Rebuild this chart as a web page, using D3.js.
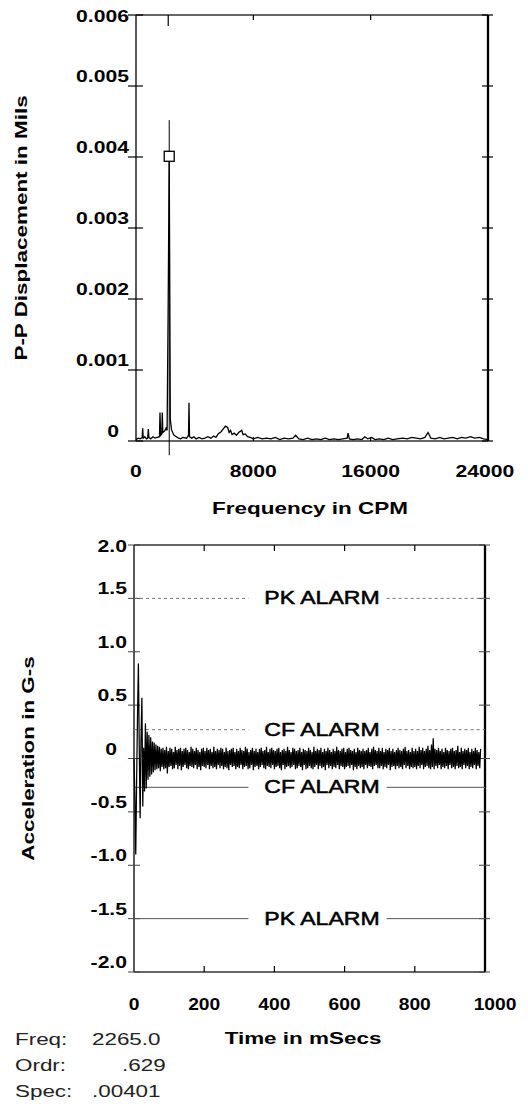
<!DOCTYPE html>
<html>
<head>
<meta charset="utf-8">
<script src="https://cdn.jsdelivr.net/npm/d3@7"></script>
<style>
  html, body { margin: 0; padding: 0; background: #fff; }
  svg { display: block; }
  text { font-family: "Liberation Sans", Arial, Helvetica, sans-serif; fill: #000; }
</style>
</head>
<body>
<svg id="chart" width="528" height="1106"></svg>
<script>
// ---- Spectrum: frequency (CPM) and P-P displacement (mils) ----
const spectrumFreq = [
  0, 150, 300, 420, 457, 490, 600, 720, 800, 839, 880, 1000, 1150, 1300, 1450,
  1600, 1636, 1680, 1760, 1793, 1830, 1950, 2050, 2120, 2190, 2265, 2340, 2420,
  2500, 2600, 2750, 2900, 3050, 3200, 3450, 3580, 3614, 3650, 3800, 3950, 4100,
  4300, 4500, 4700, 4900, 5100, 5300, 5450, 5600, 5800, 5950, 6100, 6250, 6350,
  6450, 6550, 6700, 6850, 7000, 7207, 7300, 7450, 7600, 7800, 8000, 8300, 8600,
  8900, 9200, 9500, 9800, 10100, 10400, 10700, 10889, 11100, 11400, 11700, 12000,
  12300, 12600, 12900, 13200, 13500, 13800, 14100, 14400, 14455, 14550, 14800,
  15100, 15400, 15600, 15800, 16070, 16300, 16600, 16900, 17200, 17500, 17800,
  18200, 18500, 18800, 19100, 19400, 19700, 19909, 20100, 20400, 20700, 21000,
  21300, 21600, 21900, 22200, 22500, 22800, 23100, 23400, 23700, 24000
];
const spectrumAmp = [
  0.00002, 0.00004, 0.00003, 0.00005, 0.00018, 0.00004, 0.00006, 0.00003, 0.00004, 0.00017, 0.00005, 0.00003, 0.00006, 0.00004, 0.00005,
  0.00006, 0.00040, 0.00008, 0.00010, 0.00040, 0.00012, 0.00014, 0.00018, 0.00015, 0.00180, 0.00401, 0.00030, 0.00016,
  0.00012, 0.00008, 0.00006, 0.00004, 0.00003, 0.00005, 0.00004, 0.00008, 0.00054, 0.00006, 0.00004, 0.00006, 0.00003,
  0.00005, 0.00003, 0.00004, 0.00006, 0.00004, 0.00007, 0.00005, 0.00010, 0.00013, 0.00017, 0.00021, 0.00019, 0.00012,
  0.00015, 0.00009, 0.00011, 0.00008, 0.00012, 0.00015, 0.00009, 0.00010, 0.00006, 0.00005, 0.00003, 0.00005, 0.00003,
  0.00004, 0.00003, 0.00005, 0.00002, 0.00004, 0.00003, 0.00004, 0.00008, 0.00003, 0.00002, 0.00004, 0.00002,
  0.00003, 0.00002, 0.00004, 0.00002, 0.00003, 0.00002, 0.00003, 0.00004, 0.00011, 0.00003, 0.00002,
  0.00003, 0.00002, 0.00006, 0.00003, 0.00005, 0.00002, 0.00003, 0.00002, 0.00004, 0.00002, 0.00003,
  0.00004, 0.00003, 0.00005, 0.00004, 0.00003, 0.00005, 0.00012, 0.00004, 0.00003, 0.00005, 0.00003,
  0.00004, 0.00005, 0.00003, 0.00005, 0.00004, 0.00006, 0.00004, 0.00005, 0.00003, 0.00002
];
const freqTicks = [0, 8000, 16000, 24000];
const freqTickLabels = ["0", "8000", "16000", "24000"];
const dispTicks = [0, 0.001, 0.002, 0.003, 0.004, 0.005, 0.006];
const dispTickLabels = ["0", "0.001", "0.002", "0.003", "0.004", "0.005", "0.006"];

// Cursor readout on the spectrum
const cursorFreq = 2265.0;
const cursorSpec = 0.00401;
const cursorLineTop = 0.00452;
const infoLabels = ["Freq:", "Ordr:", "Spec:"];
const infoValues = ["2265.0", ".629", ".00401"];

// ---- Time waveform: acceleration (G-s), one sample every 2.5 ms ----
const waveStepMs = 2.5;
const waveValues = [
   0.00, -0.35, -0.90, -0.20,  0.40,  0.89,  0.10, -0.56,  0.20,  0.57, -0.45,  0.10, -0.31,  0.33, -0.28,  0.25, -0.20,  0.22, -0.17,  0.20,
  -0.15,  0.16, -0.13,  0.15, -0.11,  0.13, -0.10,  0.12, -0.09,  0.11, -0.12,  0.09, -0.08,  0.10, -0.10,  0.08, -0.09,  0.11, -0.14,  0.07,
  -0.08,  0.10, -0.07,  0.09, -0.10,  0.06, -0.09,  0.11, -0.06,  0.08, -0.10,  0.09, -0.07,  0.10, -0.11,  0.07, -0.08,  0.09, -0.06,  0.10,
  -0.09,  0.08, -0.10,  0.06, -0.07,  0.11, -0.08,  0.09, -0.09,  0.07, -0.06,  0.10, -0.10,  0.08, -0.08,  0.06, -0.11,  0.09, -0.07,  0.10,
  -0.08,  0.07, -0.09,  0.10, -0.06,  0.08, -0.10,  0.09, -0.07,  0.06, -0.09,  0.11, -0.08,  0.07, -0.10,  0.09, -0.06,  0.08, -0.09,  0.10,
  -0.07,  0.09, -0.10,  0.06, -0.08,  0.10, -0.09,  0.07, -0.11,  0.08, -0.06,  0.09, -0.08,  0.10, -0.07,  0.06, -0.10,  0.09, -0.08,  0.07,
  -0.09,  0.10, -0.06,  0.08, -0.10,  0.07, -0.08,  0.11, -0.07,  0.09, -0.10,  0.06, -0.09,  0.08, -0.06,  0.10, -0.11,  0.07, -0.08,  0.09,
  -0.07,  0.06, -0.10,  0.09, -0.08,  0.10, -0.06,  0.07, -0.09,  0.08, -0.10,  0.11, -0.07,  0.06, -0.08,  0.09, -0.09,  0.10, -0.06,  0.08,
  -0.10,  0.07, -0.08,  0.09, -0.07,  0.10, -0.09,  0.06, -0.11,  0.08, -0.06,  0.09, -0.10,  0.07, -0.08,  0.11, -0.07,  0.08, -0.09,  0.06,
  -0.08,  0.10, -0.06,  0.09, -0.10,  0.07, -0.09,  0.08, -0.07,  0.10, -0.08,  0.06, -0.11,  0.09, -0.06,  0.08, -0.10,  0.07, -0.09,  0.10,
  -0.07,  0.08, -0.09,  0.06, -0.10,  0.11, -0.08,  0.07, -0.06,  0.09, -0.10,  0.08, -0.07,  0.10, -0.09,  0.06, -0.08,  0.09, -0.11,  0.07,
  -0.06,  0.10, -0.09,  0.08, -0.07,  0.06, -0.10,  0.09, -0.08,  0.07, -0.09,  0.11, -0.06,  0.08, -0.10,  0.07, -0.07,  0.09, -0.08,  0.10,
  -0.10,  0.06, -0.08,  0.09, -0.07,  0.10, -0.09,  0.08, -0.06,  0.07, -0.11,  0.09, -0.08,  0.06, -0.10,  0.10, -0.07,  0.08, -0.09,  0.07,
  -0.08,  0.09, -0.10,  0.07, -0.06,  0.08, -0.09,  0.10, -0.07,  0.06, -0.08,  0.09, -0.10,  0.11, -0.07,  0.08, -0.06,  0.07, -0.09,  0.10,
  -0.09,  0.07, -0.07,  0.10, -0.10,  0.06, -0.08,  0.09, -0.09,  0.08, -0.06,  0.10, -0.11,  0.07, -0.08,  0.09, -0.07,  0.06, -0.10,  0.08,
  -0.07,  0.10, -0.09,  0.08, -0.08,  0.07, -0.10,  0.09, -0.06,  0.11, -0.09,  0.07, -0.07,  0.08, -0.10,  0.06, -0.08,  0.10, -0.09,  0.07,
  -0.08,  0.09, -0.10,  0.07, -0.07,  0.11, -0.09,  0.08, -0.06,  0.10, -0.10,  0.07, -0.08,  0.09, -0.07,  0.12, -0.09,  0.08, -0.10,  0.13,
  -0.08,  0.19, -0.10,  0.09, -0.07,  0.08, -0.09,  0.10, -0.06,  0.07, -0.10,  0.09, -0.08,  0.06, -0.09,  0.10, -0.07,  0.08, -0.10,  0.07,
  -0.06,  0.09, -0.09,  0.10, -0.08,  0.07, -0.10,  0.08, -0.07,  0.12, -0.09,  0.06, -0.08,  0.10, -0.10,  0.07, -0.06,  0.09, -0.09,  0.08,
  -0.07,  0.10, -0.10,  0.06, -0.08,  0.09, -0.09,  0.07, -0.06,  0.10, -0.10,  0.08, -0.07,  0.06, -0.09,  0.09
];
const timeTicks = [0, 200, 400, 600, 800, 1000];
const timeTickLabels = ["0", "200", "400", "600", "800", "1000"];
const accelTicks = [-2, -1.5, -1, -0.5, 0, 0.5, 1, 1.5, 2];
const accelTickLabels = ["-2.0", "-1.5", "-1.0", "-0.5", "0", "0.5", "1.0", "1.5", "2.0"];

// Alarm limits on the waveform
const alarmNames = ["PK ALARM", "CF ALARM", "CF ALARM", "PK ALARM"];
const alarmLevels = [1.5, 0.27, -0.27, -1.5];

// ---------------------------------------------------------------
const svg = d3.select("#chart");
const WIDE = 1.32;   // horizontal stretch of the lettering

function widen(sel, k) {
  sel.each(function () {
    const w = this.getComputedTextLength();
    d3.select(this).attr("textLength", w * k).attr("lengthAdjust", "spacingAndGlyphs");
  });
}

function frame(g, x0, x1, y0, y1) {
  g.append("line").attr("x1", x0).attr("x2", x1).attr("y1", y0).attr("y2", y0)
    .attr("stroke", "#333").attr("stroke-width", 1.4);
  g.append("line").attr("x1", x0).attr("x2", x1).attr("y1", y1).attr("y2", y1)
    .attr("stroke", "#333").attr("stroke-width", 1.4);
  g.append("line").attr("x1", x0).attr("x2", x0).attr("y1", y0).attr("y2", y1)
    .attr("stroke", "#222").attr("stroke-width", 1.5);
  g.append("line").attr("x1", x1).attr("x2", x1).attr("y1", y0).attr("y2", y1)
    .attr("stroke", "#000").attr("stroke-width", 2.3);
}

// ================= Spectrum =================
const fx = d3.scaleLinear().domain([0, 24000]).range([136, 488]);
const fy = d3.scaleLinear().domain([0, 0.006]).range([441, 15]);
const gSpec = svg.append("g");

frame(gSpec, fx(0), fx(24000), fy(0.006), fy(0));

// y ticks crossing both vertical axes
dispTicks.forEach(v => {
  gSpec.append("line").attr("x1", fx(0) - 8).attr("x2", fx(0) + 7)
    .attr("y1", fy(v)).attr("y2", fy(v)).attr("stroke", "#000").attr("stroke-width", 1.2);
  gSpec.append("line").attr("x1", fx(24000) - 6).attr("x2", fx(24000) + 5)
    .attr("y1", fy(v)).attr("y2", fy(v)).attr("stroke", "#000").attr("stroke-width", 1.2);
});
// x ticks on the top and bottom borders
freqTicks.slice(1, -1).forEach(v => {
  gSpec.append("line").attr("x1", fx(v)).attr("x2", fx(v))
    .attr("y1", fy(0.006)).attr("y2", fy(0.006) + 5).attr("stroke", "#000").attr("stroke-width", 1.2);
  gSpec.append("line").attr("x1", fx(v)).attr("x2", fx(v))
    .attr("y1", fy(0)).attr("y2", fy(0) - 4).attr("stroke", "#000").attr("stroke-width", 1.2);
});

gSpec.selectAll("text.ytick").data(dispTicks).join("text")
  .attr("class", "ytick")
  .attr("x", 129).attr("dx", d => d === 0 ? -10 : 0)
  .attr("y", d => Math.max(fy(d) - 4, fy(0.006) + 7))
  .attr("text-anchor", "end")
  .attr("font-size", 16).attr("font-weight", "bold")
  .text((d, i) => dispTickLabels[i])
  .call(widen, WIDE);

gSpec.selectAll("text.xtick").data(freqTicks).join("text")
  .attr("class", "xtick")
  .attr("x", d => fx(d)).attr("dx", (d, i) => i === freqTicks.length - 1 ? -3 : 0)
  .attr("y", 477)
  .attr("text-anchor", "middle")
  .attr("font-size", 16).attr("font-weight", "bold")
  .text((d, i) => freqTickLabels[i])
  .call(widen, WIDE);

gSpec.append("text")
  .attr("x", 310).attr("y", 514).attr("text-anchor", "middle")
  .attr("font-size", 17).attr("font-weight", "bold")
  .text("Frequency in CPM").call(widen, WIDE);

gSpec.append("text")
  .attr("transform", "translate(27," + ((fy(0) + fy(0.006)) / 2) + ") rotate(-90)")
  .attr("text-anchor", "middle")
  .attr("font-size", 17).attr("font-weight", "bold")
  .text("P-P Displacement in Mils").call(widen, WIDE);

// spectrum trace
const spectrumPts = spectrumFreq.map((f, i) => [f, spectrumAmp[i]]);
gSpec.append("path")
  .datum(spectrumPts)
  .attr("fill", "none").attr("stroke", "#000").attr("stroke-width", 1.3)
  .attr("d", d3.line().x(d => fx(d[0])).y(d => fy(d[1])));

// cursor line, top indicator and marker
gSpec.append("line")
  .attr("x1", fx(cursorFreq)).attr("x2", fx(cursorFreq))
  .attr("y1", fy(-0.0002)).attr("y2", fy(cursorLineTop))
  .attr("stroke", "#000").attr("stroke-width", 1);
gSpec.append("line")
  .attr("x1", fx(cursorFreq) - 1).attr("x2", fx(cursorFreq) - 1)
  .attr("y1", fy(0.006)).attr("y2", fy(0.006) + 11)
  .attr("stroke", "#000").attr("stroke-width", 1.2);
gSpec.append("rect")
  .attr("x", fx(cursorFreq) - 5).attr("y", fy(cursorSpec) - 5)
  .attr("width", 10).attr("height", 10)
  .attr("fill", "#fff").attr("stroke", "#000").attr("stroke-width", 1.3);

// ================= Waveform =================
const tx = d3.scaleLinear().domain([0, 1000]).range([134, 485]);
const ay = d3.scaleLinear().domain([-2, 2]).range([972, 545]);
const gWave = svg.append("g");

frame(gWave, tx(0), tx(1000), ay(2), ay(-2));

accelTicks.forEach(v => {
  gWave.append("line").attr("x1", tx(0) - 6).attr("x2", tx(0) + 6)
    .attr("y1", ay(v)).attr("y2", ay(v)).attr("stroke", "#444").attr("stroke-width", 1);
  gWave.append("line").attr("x1", tx(1000) - 6).attr("x2", tx(1000) + 5)
    .attr("y1", ay(v)).attr("y2", ay(v)).attr("stroke", "#444").attr("stroke-width", 1);
});
timeTicks.slice(1, -1).forEach(v => {
  gWave.append("line").attr("x1", tx(v)).attr("x2", tx(v))
    .attr("y1", ay(2)).attr("y2", ay(2) + 6).attr("stroke", "#000").attr("stroke-width", 1.2);
  gWave.append("line").attr("x1", tx(v)).attr("x2", tx(v))
    .attr("y1", ay(-2)).attr("y2", ay(-2) - 6).attr("stroke", "#000").attr("stroke-width", 1.2);
});

gWave.selectAll("text.ytick").data(accelTicks).join("text")
  .attr("class", "ytick")
  .attr("x", 127).attr("dx", d => d === 0 ? -10 : 0)
  .attr("y", d => Math.max(ay(d) - 4, ay(2) + 7))
  .attr("text-anchor", "end")
  .attr("font-size", 16).attr("font-weight", "bold")
  .text((d, i) => accelTickLabels[i])
  .call(widen, WIDE);

gWave.selectAll("text.xtick").data(timeTicks).join("text")
  .attr("class", "xtick")
  .attr("x", d => tx(d)).attr("dx", (d, i) => i === timeTicks.length - 1 ? 10 : 0)
  .attr("y", 1010)
  .attr("text-anchor", "middle")
  .attr("font-size", 16).attr("font-weight", "bold")
  .text((d, i) => timeTickLabels[i])
  .call(widen, 1.2);

gWave.append("text")
  .attr("x", 303).attr("y", 1044).attr("text-anchor", "middle")
  .attr("font-size", 17).attr("font-weight", "bold")
  .text("Time in mSecs").call(widen, WIDE);

gWave.append("text")
  .attr("transform", "translate(34," + ay(0) + ") rotate(-90)")
  .attr("text-anchor", "middle")
  .attr("font-size", 17).attr("font-weight", "bold")
  .text("Acceleration in G-s").call(widen, WIDE);

// alarm limits with their labels
alarmLevels.forEach((lvl, i) => {
  const label = gWave.append("text")
    .attr("x", 322).attr("y", ay(lvl))
    .attr("dominant-baseline", "central")
    .attr("text-anchor", "middle")
    .attr("font-size", 18)
    .attr("stroke", "#000").attr("stroke-width", 0.5)
    .text(alarmNames[i]);
  label.call(widen, 1.28);
  const bb = label.node().getBBox();
  const dash = lvl > 0 ? "3,3" : null;
  const col = lvl > 0 ? "#777" : "#555";
  [[tx(0), bb.x - 16], [bb.x + bb.width + 7, tx(1000)]].forEach(([a, b]) => {
    gWave.append("line")
      .attr("x1", a).attr("x2", b).attr("y1", ay(lvl)).attr("y2", ay(lvl))
      .attr("stroke", col).attr("stroke-width", 1)
      .attr("stroke-dasharray", dash);
  });
});

// waveform trace
const wavePts = waveValues.map((v, i) => [i * waveStepMs, v]);
gWave.append("path")
  .datum(wavePts)
  .attr("fill", "none").attr("stroke", "#000").attr("stroke-width", 1.25)
  .attr("d", d3.line().x(d => tx(d[0])).y(d => ay(d[1])));

// ================= Cursor readout =================
const gInfo = svg.append("g");
const infoY = [1045, 1071, 1097];
const infoX = [92, 122, 92];
infoLabels.forEach((lab, i) => {
  gInfo.append("text").attr("x", 15).attr("y", infoY[i])
    .attr("font-size", 16).style("fill", "#222")
    .text(lab).call(widen, 1.4);
  gInfo.append("text").attr("x", infoX[i]).attr("y", infoY[i])
    .attr("font-size", 16).style("fill", "#222")
    .text(infoValues[i]).call(widen, 1.4);
});
</script>
</body>
</html>
